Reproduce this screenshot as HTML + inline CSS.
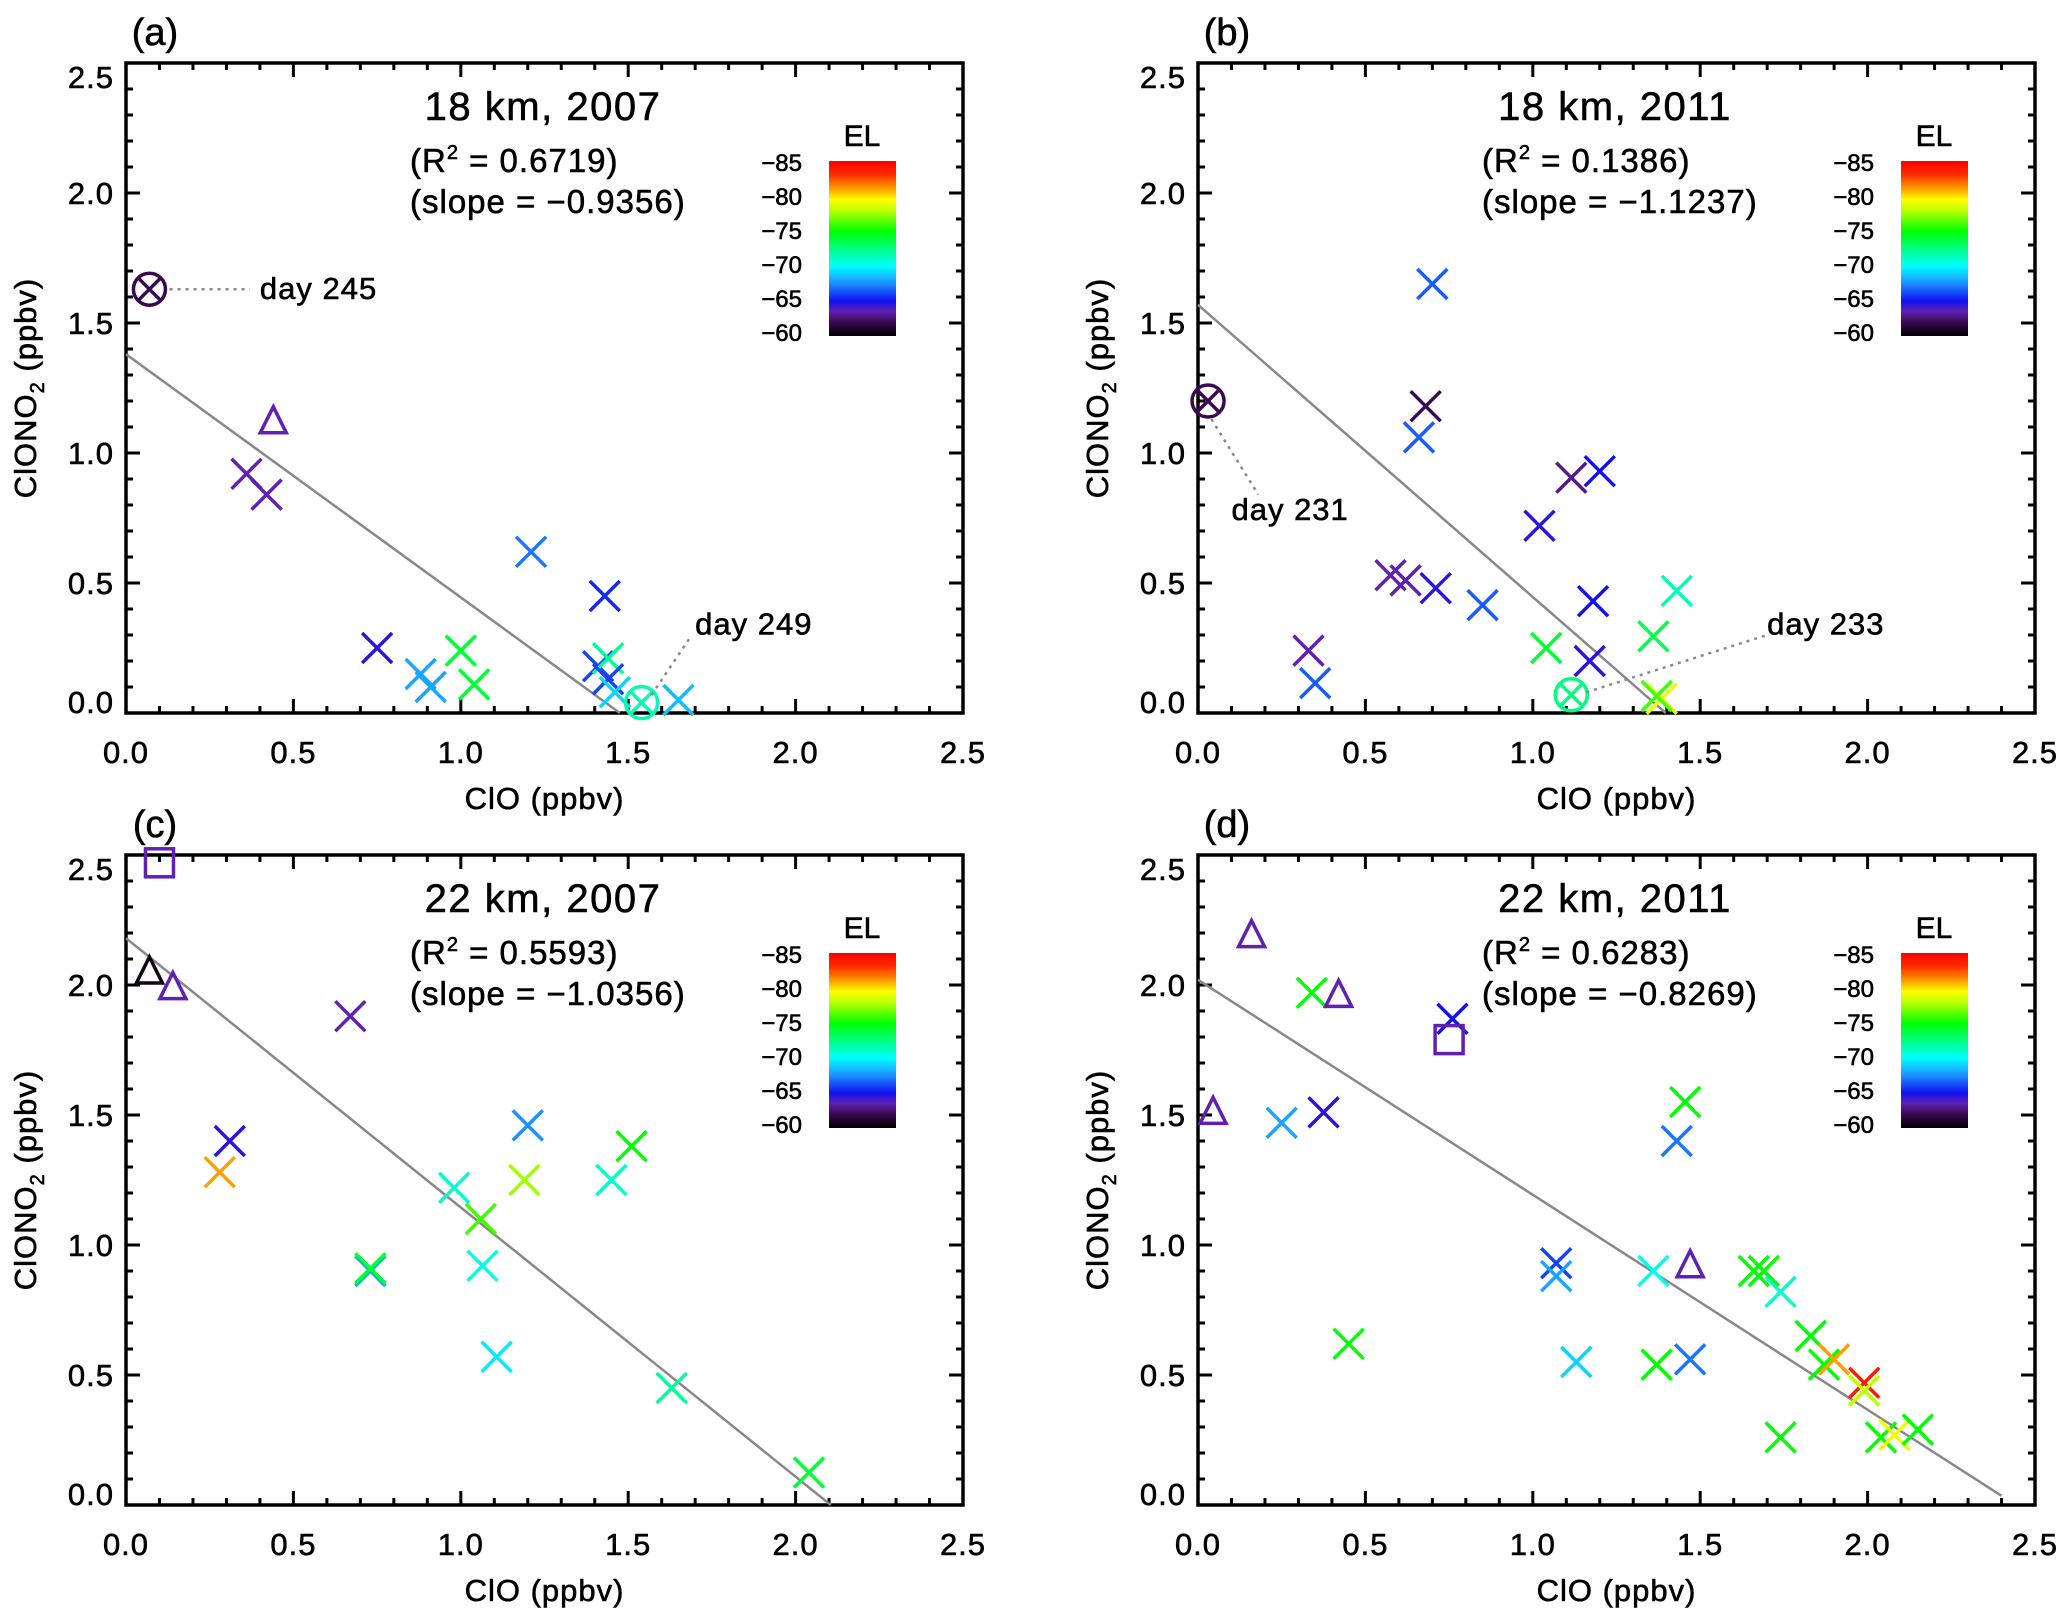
<!DOCTYPE html>
<html><head><meta charset="utf-8"><style>
html,body{margin:0;padding:0;background:#fff;}
svg{display:block;font-family:"Liberation Sans",sans-serif;}
svg text{stroke:#000;stroke-width:0.6;}
</style></head><body>
<svg id="fig" width="2067" height="1621" viewBox="0 0 2067 1621" xmlns="http://www.w3.org/2000/svg">
<defs>
<linearGradient id="cbar" x1="0" y1="1" x2="0" y2="0">
<stop offset="0" stop-color="#000000"/><stop offset="0.08" stop-color="#3a0a50"/><stop offset="0.14" stop-color="#6020b0"/><stop offset="0.2" stop-color="#1010f0"/><stop offset="0.3" stop-color="#1e90ff"/><stop offset="0.4" stop-color="#00ffff"/><stop offset="0.5" stop-color="#00ff80"/><stop offset="0.6" stop-color="#00ff00"/><stop offset="0.72" stop-color="#c0ff00"/><stop offset="0.78" stop-color="#ffff00"/><stop offset="0.84" stop-color="#ffa000"/><stop offset="0.92" stop-color="#ff3000"/><stop offset="1" stop-color="#ff0000"/>
</linearGradient>
</defs>
</svg>
<script>
const aX=[0.07,0.44,0.36,0.42,1.21,1.43,0.75,0.88,0.91,1.00,1.04,1.41,1.44,1.44,1.46,1.54,1.65];
const aY=[1.63,1.12,0.92,0.84,0.62,0.45,0.25,0.15,0.10,0.24,0.11,0.18,0.21,0.13,0.08,0.04,0.05];
const aEL=[-62,-63.5,-63.5,-63.5,-67,-65.5,-64.5,-68,-68,-74,-74,-66,-72,-66,-69,-71.5,-68.5];
const aSym=['ox','t','x','x','x','x','x','x','x','x','x','x','x','x','x','ox','x'];
const bX=[0.03,0.70,0.68,0.66,1.115,1.20,1.02,0.575,0.62,0.71,0.85,1.18,1.43,1.36,1.04,1.17,0.33,0.35,1.115,1.385,1.37];
const bY=[1.20,1.65,1.18,1.06,0.905,0.93,0.72,0.53,0.51,0.48,0.415,0.43,0.47,0.295,0.25,0.20,0.24,0.115,0.07,0.055,0.065];
const bEL=[-62,-66.5,-62,-66.5,-63,-65,-64.5,-63.5,-63.5,-64.5,-66.5,-65,-71.5,-73.5,-74,-64.5,-63.5,-66.5,-72.5,-79,-76];
const bSym=['ox','x','x','x','x','x','x','x','x','x','x','x','x','x','x','x','x','x','ox','x','x'];
const cX=[0.10,0.07,0.14,0.67,0.31,0.28,1.20,1.51,1.19,1.45,0.98,1.06,0.73,0.73,1.065,1.107,1.63,2.04];
const cY=[2.47,2.05,1.99,1.88,1.40,1.28,1.46,1.38,1.25,1.25,1.22,1.10,0.90,0.91,0.92,0.57,0.45,0.125];
const cEL=[-63.5,-60.5,-63.5,-63.5,-64.5,-81,-67.5,-75,-77.5,-71,-71,-76,-68,-74,-70.5,-69.5,-72,-74];
const cSym=['s','t','t','x','x','x','x','x','x','x','x','x','x','x','x','x','x','x'];
const dX=[0.16,0.045,0.34,0.42,0.76,0.75,0.25,0.375,1.455,1.43,1.07,1.07,1.36,1.47,1.66,1.69,1.74,0.45,1.13,1.37,1.47,1.83,1.87,1.90,1.99,1.99,1.74,2.04,2.08,2.15];
const dY=[2.19,1.51,1.97,1.96,1.87,1.79,1.47,1.51,1.55,1.40,0.93,0.88,0.90,0.92,0.90,0.90,0.82,0.62,0.55,0.54,0.56,0.65,0.54,0.56,0.47,0.44,0.26,0.26,0.27,0.29];
const dEL=[-63.5,-63.5,-75,-63.5,-65,-63.5,-68,-64.5,-75,-67,-66,-68,-70.5,-63.5,-75,-75,-71,-75,-69,-75,-67,-75,-75,-81,-84,-78,-75,-75,-79,-75];
const dSym=['t','t','x','t','x','s','x','x','x','x','x','x','x','t','x','x','x','x','x','x','x','x','x','x','x','x','x','x','x','x'];
const intercepts=[1.38,1.57,2.18,2.02];
const slopes=[-0.9356,-1.1237,-1.0356,-0.8269];
const r2=['0.6719','0.1386','0.5593','0.6283'];
const titles=['18 km, 2007','18 km, 2011','22 km, 2007','22 km, 2011'];
const letters=['(a)','(b)','(c)','(d)'];
const tickLabels=['0.0','0.5','1.0','1.5','2.0','2.5'];
const elLabels=['-85','-80','-75','-70','-65','-60'];

const NS='http://www.w3.org/2000/svg';
const svg=document.getElementById('fig');
function mk(tag,attrs,parent){const e=document.createElementNS(NS,tag);for(const k in attrs)e.setAttribute(k,attrs[k]);(parent||svg).appendChild(e);return e;}
const cstops=[[-60,[0,0,0]],[-62,[58,10,80]],[-63.5,[96,32,176]],[-65,[16,16,240]],[-67.5,[30,144,255]],[-70,[0,255,255]],[-72.5,[0,255,128]],[-75,[0,255,0]],[-78,[192,255,0]],[-79.5,[255,255,0]],[-81,[255,160,0]],[-83,[255,48,0]],[-85,[255,0,0]]];
function elColor(v){for(let i=0;i<cstops.length-1;i++){const a=cstops[i],b=cstops[i+1];if(v<=a[0]&&v>=b[0]){const t=(a[0]-v)/(a[0]-b[0]);const c=a[1].map((x,j)=>Math.round(x+(b[1][j]-x)*t));return 'rgb('+c.join(',')+')';}}return v>-60?'#000':'#f00';}

const panels=[{x0:126,y0:63,X:aX,Y:aY,E:aEL,S:aSym},{x0:1198,y0:63,X:bX,Y:bY,E:bEL,S:bSym},{x0:126,y0:855,X:cX,Y:cY,E:cEL,S:cSym},{x0:1198,y0:855,X:dX,Y:dY,E:dEL,S:dSym}];
const W=837,H=650;
panels.forEach((p,pi)=>{
  const g=mk('g',{});
  
  
  const sx=v=>p.x0+v/2.5*W, sy=v=>p.y0+H-v/2.5*H;
  const lt=mk('text',{x:p.x0+29,y:p.y0-18,'font-size':38,'text-anchor':'middle'},g);lt.textContent=letters[pi];
  
  for(let i=0;i<=25;i++){const v=i/10,maj=i%5==0,L=maj?14:7;
    mk('line',{x1:sx(v),x2:sx(v),y1:p.y0+H,y2:p.y0+H-L,stroke:'#000','stroke-width':3},g);
    mk('line',{x1:sx(v),x2:sx(v),y1:p.y0,y2:p.y0+L,stroke:'#000','stroke-width':3},g);
    mk('line',{x1:p.x0,x2:p.x0+L,y1:sy(v),y2:sy(v),stroke:'#000','stroke-width':3},g);
    mk('line',{x1:p.x0+W,x2:p.x0+W-L,y1:sy(v),y2:sy(v),stroke:'#000','stroke-width':3},g);}
  const box=mk('rect',{x:p.x0,y:p.y0,width:W,height:H,fill:'none',stroke:'#000','stroke-width':3.5},g);
  
  tickLabels.forEach((t,i)=>{const v=i*0.5;
    const tx=mk('text',{x:sx(v),y:p.y0+H+50,'font-size':31,'text-anchor':'middle','letter-spacing':1},g);tx.textContent=t;
    
    let cy=sy(v);if(i==5)cy+=14;if(i==0)cy-=11;
    const ty=mk('text',{x:p.x0-12,y:cy+11,'font-size':31,'text-anchor':'end','letter-spacing':1},g);ty.textContent=t;
    });
  const xt=mk('text',{x:p.x0+W/2,y:p.y0+H+96,'font-size':31,'text-anchor':'middle','letter-spacing':1},g);xt.textContent='ClO (ppbv)';
  
  const yt=mk('text',{x:0,y:0,'font-size':31,'text-anchor':'middle','letter-spacing':1,transform:`translate(${p.x0-90},${p.y0+H/2}) rotate(-90)`},g);
  yt.innerHTML='ClONO<tspan font-size="20" dy="8">2</tspan><tspan dy="-8"> (ppbv)</tspan>';
  
  const tt=mk('text',{x:p.x0+417,y:p.y0+57,'font-size':40,'text-anchor':'middle','letter-spacing':1.5},g);tt.textContent=titles[pi];
  
  const rt=mk('text',{x:p.x0+284,y:p.y0+109,'font-size':33,'letter-spacing':1},g);rt.innerHTML='(R<tspan font-size="20" dy="-13">2</tspan><tspan dy="13"> = '+r2[pi]+')</tspan>';
  
  const st=mk('text',{x:p.x0+284,y:p.y0+150,'font-size':33,'letter-spacing':1},g);st.textContent='(slope = \u2212'+Math.abs(slopes[pi]).toFixed(4)+')';
  
  const cb=mk('rect',{x:p.x0+703,y:p.y0+98,width:67,height:175,fill:'url(#cbar)'},g);
  
  const el=mk('text',{x:p.x0+736,y:p.y0+83,'font-size':30,'text-anchor':'middle'},g);el.textContent='EL';
  
  elLabels.forEach((t,i)=>{const e=mk('text',{x:p.x0+676,y:p.y0+108+i*34,'font-size':24,'text-anchor':'end','stroke-width':0.4},g);e.textContent=t.replace('-','\u2212');
    });
  let xe=-intercepts[pi]/slopes[pi];if(pi==3)xe=2.4;
  const rl=mk('line',{x1:sx(0),y1:sy(intercepts[pi]),x2:sx(xe),y2:sy(intercepts[pi]+slopes[pi]*xe),stroke:'#888','stroke-width':2.5},g);
  
  p.X.forEach((xv,i)=>{const cx=sx(xv),cy=sy(p.Y[i]),col=elColor(p.E[i]),s=p.S[i];
    const pg=mk('g',{stroke:col,'stroke-width':3.5,fill:'none'},g);
    if(s=='x'||s=='ox'){const h=s=='ox'?11:15;mk('path',{d:`M${cx-h},${cy-h}L${cx+h},${cy+h}M${cx-h},${cy+h}L${cx+h},${cy-h}`},pg);}
    if(s=='ox'){mk('circle',{cx:cx,cy:cy,r:16},pg);}
    if(s=='t'){mk('path',{d:`M${cx},${cy-15}L${cx+13},${cy+11}L${cx-13},${cy+11}Z`},pg);}
    if(s=='s'){mk('rect',{x:cx-14,y:cy-14,width:28,height:28},pg);}
    
    });
  p.sx=sx;p.sy=sy;p.g=g;
});
function annot(pi,x1,y1,x2,y2,tx,ty,label){const p=panels[pi];
  const l=mk('line',{x1:p.sx(x1),y1:p.sy(y1),x2:p.sx(x2),y2:p.sy(y2),stroke:'#888','stroke-width':2.5,'stroke-dasharray':'3,5'},p.g);
  
  const t=mk('text',{x:p.sx(tx),y:p.sy(ty)+10,'font-size':31,'letter-spacing':1},p.g);t.textContent=label;
  }
annot(0,0.13,1.63,0.37,1.63,0.40,1.63,'day 245');
annot(0,1.57,0.07,1.69,0.30,1.70,0.34,'day 249');
annot(1,0.04,1.13,0.18,0.84,0.10,0.78,'day 231');
annot(1,1.16,0.08,1.70,0.30,1.70,0.34,'day 233');
</script>
</body></html>
